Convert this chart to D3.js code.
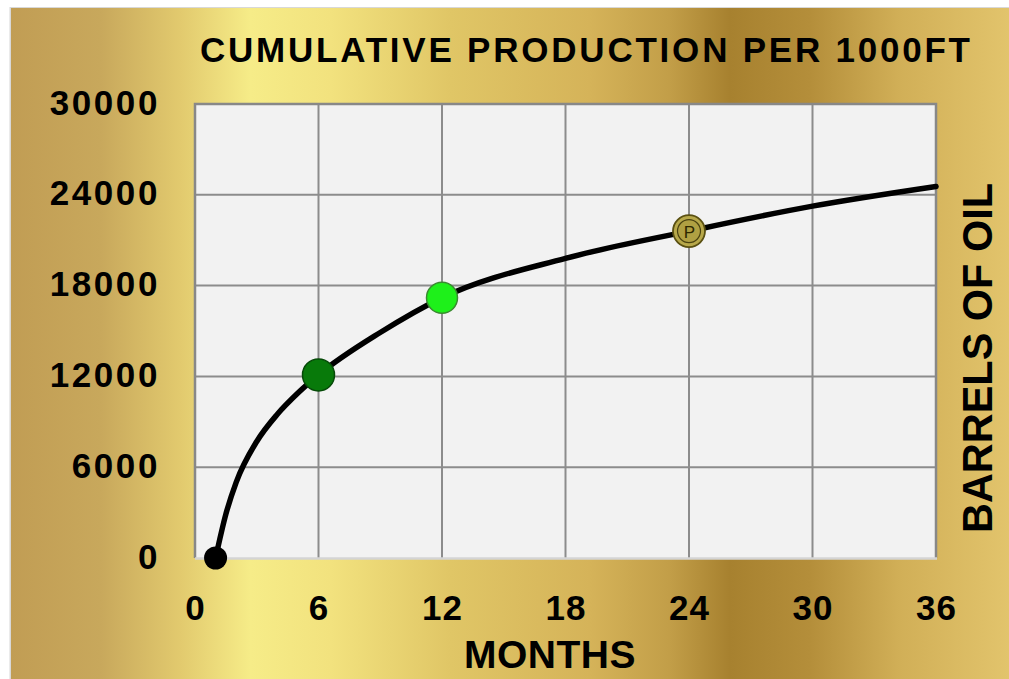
<!DOCTYPE html>
<html><head><meta charset="utf-8">
<script src="https://cdn.jsdelivr.net/npm/d3@7"></script>
<style>html,body{margin:0;padding:0;background:#fff;}svg{display:block;}</style>
</head><body>
<script>
const months  = [1, 1.5, 2, 3, 4, 5, 6, 9, 12, 18, 24, 30, 36];
const barrels = [0, 2900, 5000, 7700, 9500, 10900, 12100, 14900, 17200, 19800, 21600, 23250, 24550];
const xTicks = [0, 6, 12, 18, 24, 30, 36];
const yTicks = [0, 6000, 12000, 18000, 24000, 30000];
const markerMonths = [1, 6, 12, 24];
const markerValues = [0, 12100, 17200, 21600];
const markerKinds = ["start", "dark", "light", "p"];
const title = "CUMULATIVE PRODUCTION PER 1000FT";
const xTitle = "MONTHS";
const yTitle = "BARRELS OF OIL";

const W = 1009, H = 679;
const svg = d3.select("body").append("svg").attr("width", W).attr("height", H);
const defs = svg.append("defs");
const g = defs.append("linearGradient").attr("id","gold").attr("gradientUnits","userSpaceOnUse")
  .attr("x1",11).attr("y1",0).attr("x2",1009).attr("y2",0);
[[0,"#c19d54"],[0.09,"#c8a85c"],[0.17,"#e2ca6e"],[0.24,"#f6ec88"],[0.32,"#f2e27e"],
 [0.44,"#e0c666"],[0.58,"#d5b359"],[0.66,"#c29e48"],[0.72,"#a7812f"],[0.80,"#b48e3a"],
 [0.89,"#d1af57"],[1,"#e2c46c"]].forEach(([o,c])=>g.append("stop").attr("offset",o).attr("stop-color",c));

svg.append("rect").attr("x",9.5).attr("y",7).attr("width",W).attr("height",H).attr("fill","#d8d8d8");
svg.append("rect").attr("x",11).attr("y",8).attr("width",W-11).attr("height",H-8).attr("fill","url(#gold)");

const L = 195, R = 936, T = 104, B = 558;
const x = d3.scaleLinear().domain([0,36]).range([L,R]);
const y = d3.scaleLinear().domain([0,30000]).range([B,T]);

svg.append("rect").attr("x",L).attr("y",T).attr("width",R-L).attr("height",B-T).attr("fill","#f2f2f2");

// grid
const grid = svg.append("g").attr("stroke","#8c8c8c").attr("stroke-width",2);
xTicks.slice(1,-1).forEach(t=>grid.append("line").attr("x1",x(t)).attr("x2",x(t)).attr("y1",T).attr("y2",B));
yTicks.slice(1,-1).forEach(t=>grid.append("line").attr("x1",L).attr("x2",R).attr("y1",y(t)).attr("y2",y(t)));
// border
svg.append("path").attr("d",`M${L},${B}V${T}H${R}V${B}`).attr("fill","none").attr("stroke","#888").attr("stroke-width",2.5);
svg.append("line").attr("x1",L).attr("x2",R+1).attr("y1",B+0.5).attr("y2",B+0.5).attr("stroke","#d4d4d4").attr("stroke-width",2.5);

// axes via d3
const xAxis = svg.append("g").attr("transform",`translate(0,${B})`)
  .call(d3.axisBottom(x).tickValues(xTicks).tickFormat(d3.format("d")).tickSize(0).tickPadding(0));
xAxis.select(".domain").remove();
xAxis.selectAll("text").attr("y",62).attr("dy",null)
  .style("font","bold 35px 'Liberation Sans', Arial, sans-serif").attr("fill","#000").attr("letter-spacing","1px");

const yAxis = svg.append("g")
  .call(d3.axisLeft(y).tickValues(yTicks).tickFormat(d3.format("d")).tickSize(0).tickPadding(0));
yAxis.select(".domain").remove();
yAxis.selectAll("text").attr("x",160).attr("dy",null).attr("y",10)
  .style("font","bold 35px 'Liberation Sans', Arial, sans-serif").attr("fill","#000")
  .attr("text-anchor","end").attr("letter-spacing","2.6px");

// line
const line = d3.line().x((d,i)=>x(months[i])).y(d=>y(d)).curve(d3.curveMonotoneX);
svg.append("path").attr("d",line(barrels)).attr("fill","none").attr("stroke","#000")
  .attr("stroke-width",5.5).attr("stroke-linecap","round");

// markers
markerKinds.forEach((k,i)=>{
  const cx = x(markerMonths[i]), cy = y(markerValues[i]);
  if (k==="start") {
    svg.append("circle").attr("cx",cx).attr("cy",cy).attr("r",11.5).attr("fill","#000");
  } else if (k==="dark") {
    svg.append("circle").attr("cx",cx).attr("cy",cy).attr("r",16).attr("fill","#087a0a")
      .attr("stroke","#064a08").attr("stroke-width",1.5);
  } else if (k==="light") {
    svg.append("circle").attr("cx",cx).attr("cy",cy).attr("r",15.5).attr("fill","#1ef01a")
      .attr("stroke","#3a8a30").attr("stroke-width",1.5);
  } else {
    svg.append("circle").attr("cx",cx).attr("cy",cy).attr("r",16).attr("fill","#b7a84a")
      .attr("stroke","#5a5012").attr("stroke-width",1.8);
    svg.append("circle").attr("cx",cx).attr("cy",cy).attr("r",11.5).attr("fill","#b0a042")
      .attr("stroke","#4a4210").attr("stroke-width",1.2);
    svg.append("text").attr("x",cx+0.5).attr("y",cy+7).attr("text-anchor","middle")
      .style("font","17px 'Liberation Sans', Arial, sans-serif").attr("fill","#2e2800").text("P");
  }
});

// titles
svg.append("text").attr("x",200).attr("y",62).attr("textLength",770).attr("lengthAdjust","spacing")
  .style("font","bold 35px 'Liberation Sans', Arial, sans-serif").attr("fill","#000").text(title);
svg.append("text").attr("x",550).attr("y",668).attr("text-anchor","middle").attr("letter-spacing","0.5px")
  .style("font","bold 39px 'Liberation Sans', Arial, sans-serif").attr("fill","#000").text(xTitle);
svg.append("text").attr("transform","translate(992,358) rotate(-90)").attr("text-anchor","middle")
  .attr("textLength",350).attr("lengthAdjust","spacingAndGlyphs")
  .style("font","bold 42px 'Liberation Sans', Arial, sans-serif").attr("fill","#000").text(yTitle);
</script>
</body></html>
